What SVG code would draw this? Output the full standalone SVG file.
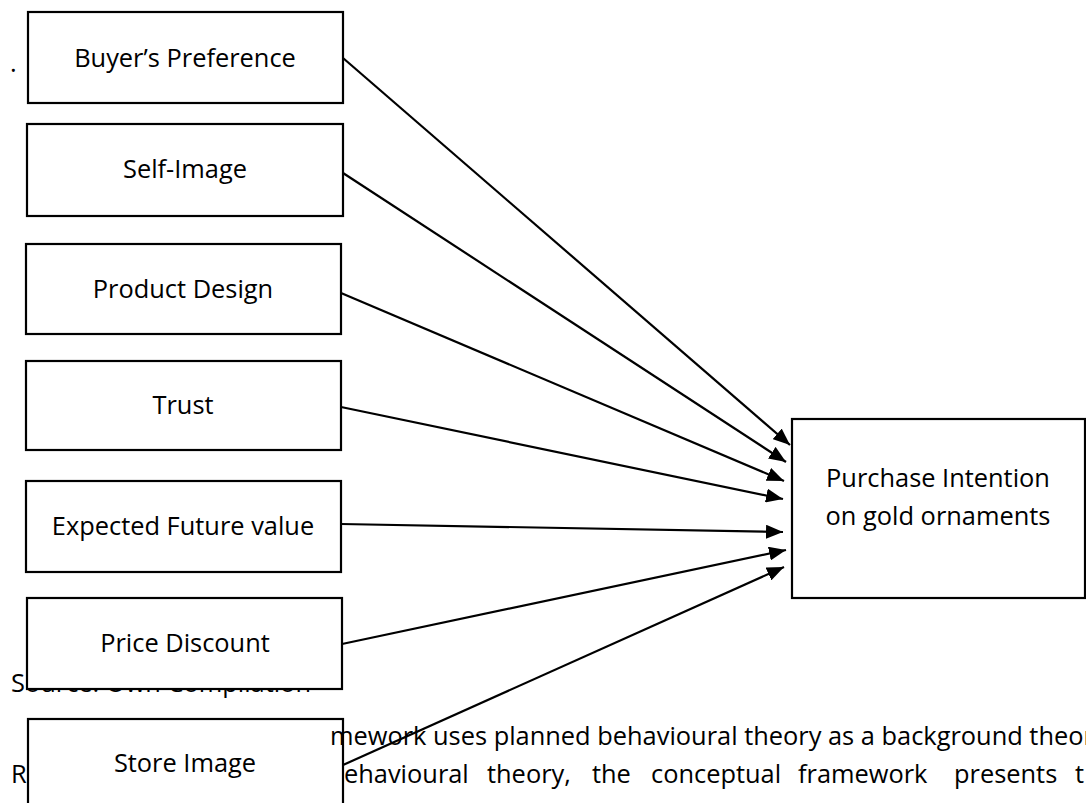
<svg xmlns="http://www.w3.org/2000/svg" width="1086" height="803" viewBox="0 0 1086 803">
<style>
.box{fill:#fff;stroke:#000;stroke-width:2.2}
.lbl{font-family:"Open Sans","Liberation Sans",sans-serif;font-size:25.4px;fill:#000;text-anchor:middle}
.txt{font-family:"Open Sans","Liberation Sans",sans-serif;font-size:25.4px;fill:#000}
.edge{stroke:#000;stroke-width:2.2;fill:none;marker-end:url(#ah)}
</style>
<defs>
<marker id="ah" markerUnits="userSpaceOnUse" markerWidth="18" markerHeight="14" refX="17" refY="7" orient="auto">
<path d="M0,0 L17,7 L0,14 Z" fill="#000"/>
</marker>
</defs>
<rect width="1086" height="803" fill="#fff"/>
<text class="txt" x="10" y="72">.</text>
<text class="txt" x="11" y="692">Source: Own Compilation</text>
<g id="n-buyer"><rect class="box" x="28" y="12" width="315" height="91"/><text class="lbl" x="185" y="67">Buyer’s Preference</text></g>
<g id="n-self"><rect class="box" x="27" y="124" width="316" height="92"/><text class="lbl" x="185" y="178">Self-Image</text></g>
<g id="n-design"><rect class="box" x="26" y="244" width="315" height="90"/><text class="lbl" x="183" y="298">Product Design</text></g>
<g id="n-trust"><rect class="box" x="26" y="361" width="315" height="89"/><text class="lbl" x="183" y="414">Trust</text></g>
<g id="n-future"><rect class="box" x="26" y="481" width="315" height="91"/><text class="lbl" x="183" y="535">Expected Future value</text></g>
<g id="n-price"><rect class="box" x="27" y="598" width="315" height="91"/><text class="lbl" x="185" y="652">Price Discount</text></g>
<g id="n-store"><rect class="box" x="28" y="719" width="315" height="100"/><text class="lbl" x="185" y="772">Store Image</text></g>
<g id="n-purchase"><rect class="box" x="792" y="419" width="293" height="179"/><text class="lbl" x="938" y="487">Purchase Intention</text><text class="lbl" x="938" y="525">on gold ornaments</text></g>
<g id="connectors">
<line class="edge" x1="343" y1="58" x2="790" y2="445"/>
<line class="edge" x1="343" y1="173" x2="786" y2="462"/>
<line class="edge" x1="341" y1="293" x2="784" y2="481"/>
<line class="edge" x1="341" y1="407" x2="783" y2="499"/>
<line class="edge" x1="341" y1="524" x2="783" y2="532"/>
<line class="edge" x1="342" y1="644" x2="786" y2="550"/>
<line class="edge" x1="343" y1="765" x2="784" y2="567"/>
</g>
<text class="txt" x="330" y="745">mework uses planned behavioural theory as a background theor</text>
<text class="txt" x="11" y="783">R</text>
<text class="txt" y="783"><tspan x="344">ehavioural</tspan><tspan x="487">theory,</tspan><tspan x="592">the</tspan><tspan x="651">conceptual</tspan><tspan x="798">framework</tspan><tspan x="954">presents</tspan><tspan x="1075">t</tspan></text>
</svg>
